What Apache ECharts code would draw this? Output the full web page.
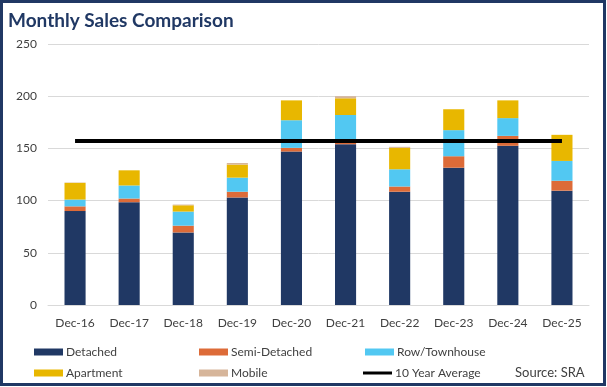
<!DOCTYPE html>
<html><head><meta charset="utf-8">
<script src="https://cdn.jsdelivr.net/npm/echarts@6/dist/echarts.min.js"></script>
<style>html,body{margin:0;padding:0;background:#fff}#c{width:607px;height:387px}</style>
</head><body><div id="c"></div>
<script>
const categories = ['Dec-16','Dec-17','Dec-18','Dec-19','Dec-20','Dec-21','Dec-22','Dec-23','Dec-24','Dec-25'];
const detached     = [90, 98.5, 69.5, 103, 147, 154, 108.5, 131.5, 152.5, 109.5];
const semiDetached = [4.5, 3.5, 6.5, 5.5, 3.5, 2, 5, 11, 9.5, 9.5];
const rowTownhouse = [6.5, 12.5, 13.5, 13.5, 26.5, 26, 16.5, 25, 17, 19];
const apartment    = [16, 14.5, 6, 12.5, 19, 16, 20.5, 20, 17, 25];
const mobile       = [0.3, 0, 0.7, 1.5, 0, 2, 1, 0, 0, 0];
const tenYearAvg   = [157, 157, 157, 157, 157, 157, 157, 157, 157, 157];
const yTicks = [0, 50, 100, 150, 200, 250];

const FONT = 'Lato';
const colors = {
  'Detached':'#203864','Semi-Detached':'#DD6B38','Row/Townhouse':'#52C8F2',
  'Apartment':'#E8B700','Mobile':'#D6B59A','10 Year Average':'#000000'
};
function bar(name, data){
  return {name, type:'bar', stack:'s', data, barWidth:'39%',
    itemStyle:{color:colors[name]}};
}
function leg(name, left, top, isLine){
  return {data:[{name, icon:'rect', itemStyle: isLine?{color:'#000'}:undefined}], left, top,
    itemWidth:29, itemHeight: isLine?3:7, itemGap:0, padding:0,
    textStyle:{fontFamily:FONT, fontSize:12, color:'#404040', padding:[0,0,0,-2]},
    selectedMode:false};
}
const chart = echarts.init(document.getElementById('c'), null, {renderer:'canvas'});
chart.setOption({
  animation:false,
  backgroundColor:'#fff',
  title:{text:'Monthly Sales Comparison', left:3, top:6,
    textStyle:{fontFamily:FONT, fontWeight:'bold', fontSize:19, color:'#203864'}},
  grid:{left:48, right:18, top:44, bottom:82, containLabel:false},
  xAxis:{type:'category', data:categories,
    axisLine:{lineStyle:{color:'#D9D9D9'}}, axisTick:{show:false},
    axisLabel:{fontFamily:FONT, fontSize:12, color:'#404040', margin:12}},
  yAxis:{type:'value', min:0, max:250, interval:50,
    axisLine:{show:false}, axisTick:{show:false},
    splitLine:{lineStyle:{color:'#D9D9D9'}},
    axisLabel:{fontFamily:FONT, fontSize:12, color:'#404040', margin:11,
      formatter:v=>yTicks.includes(v)?String(v):''}},
  legend:[
    leg('Detached',34,346,false), leg('Semi-Detached',199,346,false), leg('Row/Townhouse',365,346,false),
    leg('Apartment',34,367,false), leg('Mobile',199,367,false), leg('10 Year Average',363,367,true)
  ],
  series:[
    bar('Detached', detached), bar('Semi-Detached', semiDetached), bar('Row/Townhouse', rowTownhouse),
    bar('Apartment', apartment), bar('Mobile', mobile),
    {name:'10 Year Average', type:'line', data:tenYearAvg, symbol:'none', z:5,
      lineStyle:{color:'#000', width:4}, itemStyle:{color:'#000'}}
  ],
  graphic:[
    {type:'text', left:515, top:366, style:{text:'Source: SRA', fontFamily:FONT, fontSize:13, fill:'#404040'}},
    {type:'rect', shape:{x:1.5, y:1.5, width:603, height:383}, style:{fill:'none', stroke:'#203864', lineWidth:3}, z:100}
  ]
});
</script></body></html>
